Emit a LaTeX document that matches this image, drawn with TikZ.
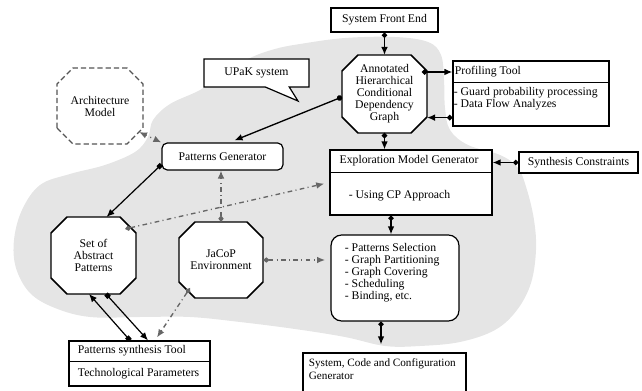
\documentclass[tikz,border=0pt]{standalone}
\usepackage{fontspec}
\setmainfont{Liberation Serif}
\usetikzlibrary{arrows.meta,calc,shapes.callouts}

\definecolor{blobgray}{RGB}{229,229,229}
\definecolor{linkgray}{RGB}{102,102,102}
\definecolor{archgray}{RGB}{85,85,85}

% octagon made from a rectangle with cut corners
\makeatletter
\newdimen\octcut \newdimen\octL \newdimen\octB \newdimen\octR \newdimen\octT
\pgfkeys{/pgf/octagon cut/.initial=12pt}
\pgfdeclareshape{octagon box}{%
	\inheritsavedanchors[from=rectangle]%
	\inheritanchorborder[from=rectangle]%
	\inheritanchor[from=rectangle]{center}%
	\inheritanchor[from=rectangle]{north}%
	\inheritanchor[from=rectangle]{south}%
	\inheritanchor[from=rectangle]{east}%
	\inheritanchor[from=rectangle]{west}%
	\inheritanchor[from=rectangle]{north east}%
	\inheritanchor[from=rectangle]{north west}%
	\inheritanchor[from=rectangle]{south east}%
	\inheritanchor[from=rectangle]{south west}%
	\backgroundpath{%
		\pgfmathsetlength\octcut{\pgfkeysvalueof{/pgf/octagon cut}}%
		\southwest \octL=\pgf@x \octB=\pgf@y
		\northeast \octR=\pgf@x \octT=\pgf@y
		\pgfpathmoveto{\pgfqpoint{\octL}{\dimexpr\octB+\octcut\relax}}%
		\pgfpathlineto{\pgfqpoint{\octL}{\dimexpr\octT-\octcut\relax}}%
		\pgfpathlineto{\pgfqpoint{\dimexpr\octL+\octcut\relax}{\octT}}%
		\pgfpathlineto{\pgfqpoint{\dimexpr\octR-\octcut\relax}{\octT}}%
		\pgfpathlineto{\pgfqpoint{\octR}{\dimexpr\octT-\octcut\relax}}%
		\pgfpathlineto{\pgfqpoint{\octR}{\dimexpr\octB+\octcut\relax}}%
		\pgfpathlineto{\pgfqpoint{\dimexpr\octR-\octcut\relax}{\octB}}%
		\pgfpathlineto{\pgfqpoint{\dimexpr\octL+\octcut\relax}{\octB}}%
		\pgfpathclose
	}%
}
\makeatother

\tikzset{every picture/.style={line width=0.75pt}}
\tikzset{
	every node/.style={font=\fontsize{8.8pt}{9pt}\selectfont},
	box/.style={draw, fill=white, line width=0.9pt, inner sep=1pt},
	roundbox/.style={box, rounded corners=4pt},
	octa/.style={draw, fill=white, line width=1.1pt, shape=octagon box, octagon cut=12pt, align=center, inner sep=0pt, outer sep=0pt},
	boxtext/.style={inner sep=0pt, align=left},
	solidlink/.style={line width=1.1pt, {Circle[length=4pt]}-{Latex[length=6pt,width=5pt]}},
	squarelink/.style={line width=0.9pt, {Square[length=3.5pt]}-{Latex[length=6pt,width=5pt]}},
	graylink/.style={draw=linkgray, line width=1pt, dash pattern=on 3.5pt off 2.5pt on 0.8pt off 2.5pt, {Diamond[length=5pt,width=4pt]}-{Latex[length=6pt,width=5pt]}},
}

\begin{document}
\begin{tikzpicture}[x=0.75pt,y=0.75pt,yscale=-1,xscale=1]
	\useasboundingbox (0,0) rectangle (642,391);

	%Shape: Gray area [id:upak area]
	\fill[blobgray] plot[smooth cycle, tension=0.6] coordinates {(300,44) (345,38) (395,37) (428,42) (441,55) (444,80) (445,108) (450,130) (468,145) (500,155) (518,168) (527,190) (534,220) (536,250) (531,283) (517,310) (495,330) (460,342) (420,346) (385,346) (345,337) (295,329) (240,322) (190,317) (140,317) (90,317) (55,308) (30,293) (16,268) (14,240) (22,210) (40,185) (70,174) (105,165) (135,152) (148,137) (153,120) (170,104) (200,90) (220,75) (250,58) (275,49)};

	%Shape: Callout [id:upak]
	\node[box, rectangle callout, minimum width=78.75pt, minimum height=21pt, callout absolute pointer={(298,101)}, callout pointer width=18pt] (upak) at (256.5,73) {UPaK system};

	%Shape: Rectangle [id:sfe]
	\node[box, minimum width=80.25pt, minimum height=18pt] (sfe) at (384.5,20) {System Front End};
	%Shape: Octagon [id:ahcdg]
	\node[octa, minimum width=63.75pt, minimum height=58.5pt] (ahcdg) at (384.5,94) {Annotated\\Hierarchical\\Conditional\\Dependency\\Graph};
	%Shape: Rectangle [id:prof]
	\node[box, minimum width=117pt, minimum height=48.75pt] (prof) at (531,93.5) {};
	\draw[line width=0.9pt] ($(prof.north west)+(0,22)$) -- ($(prof.north east)+(0,22)$);
	\node[boxtext, anchor=west] (proftitle) at ($(prof.north west)+(2,11)$) {Profiling Tool};
	\node[boxtext, anchor=north west] (proflist) at ($(prof.north west)+(1,26)$) {- Guard probability processing\\- Data Flow Analyzes};

	%Shape: Rectangle [id:emg]
	\node[box, minimum width=121.5pt, minimum height=48.75pt] (emg) at (411,182.5) {};
	\draw[line width=0.9pt] ($(emg.north west)+(0,23)$) -- ($(emg.north east)+(0,23)$);
	\node[boxtext] (emgtitle) at ($(emg.north)+(-2,11.5)$) {Exploration Model Generator};
	\node[boxtext, anchor=west] (emgbody) at ($(emg.north west)+(19,46)$) {- Using CP Approach};
	%Shape: Rectangle [id:synth]
	\node[box, minimum width=89.25pt, minimum height=15.75pt] (synth) at (578.5,162.5) {Synthesis Constraints};

	%Shape: Rounded Rectangle [id:tasks]
	\node[box, rounded corners=8pt, minimum width=96pt, minimum height=64.5pt] (tasks) at (395,278) {};
	\node[boxtext, anchor=north west] (tasklist) at ($(tasks.north west)+(14,8)$) {- Patterns Selection\\- Graph Partitioning\\- Graph Covering\\- Scheduling\\- Binding, etc.};
	%Shape: Rectangle [id:syscode]
	\node[box, minimum width=122.25pt, minimum height=34.5pt] (syscode) at (384.5,376) {};
	\node[boxtext, anchor=north west, font=\fontsize{8.4pt}{9.6pt}\selectfont] (syscodetext) at ($(syscode.north west)+(6,6)$) {System, Code and Configuration\\Generator};

	%Shape: Rounded Rectangle [id:pgen]
	\node[roundbox, minimum width=90.75pt, minimum height=20.25pt] (pgen) at (222.5,156.5) {Patterns Generator};
	%Shape: Octagon [id:arch]
	\node[octa, draw=archgray, line width=1pt, dash pattern=on 4pt off 2.2pt, minimum width=64.5pt, minimum height=57pt] (arch) at (100,106) {Architecture\\Model};
	%Shape: Octagon [id:sap]
	\node[octa, minimum width=63.75pt, minimum height=57.75pt] (sap) at (93.5,255.5) {Set of\\Abstract\\Patterns};
	%Shape: Octagon [id:jacop]
	\node[octa, minimum width=63pt, minimum height=57pt] (jacop) at (221,260) {JaCoP\\Environment};
	%Shape: Rectangle [id:pst]
	\node[box, minimum width=105.75pt, minimum height=33.75pt] (pst) at (139.5,363.5) {};
	\draw[line width=0.9pt] ($(pst.north west)+(0,21)$) -- ($(pst.north east)+(0,21)$);
	\node[boxtext, anchor=west] (psttitle) at ($(pst.north west)+(9,10.5)$) {Patterns synthesis Tool};
	\node[boxtext, anchor=west] (pstparams) at ($(pst.north west)+(9,33)$) {Technological Parameters};

	%Straight Lines [id:front to graph]
	\draw[solidlink] (sfe.south) -- (ahcdg.north);
	%Straight Lines [id:graph to profiling]
	\coordinate (graphout) at ($(ahcdg.north east)+(-5,17)$);
	\draw[solidlink] (graphout) -- (graphout -| prof.west);
	%Straight Lines [id:profiling to graph]
	\coordinate (profback) at ($(prof.south west)+(0,-9)$);
	\draw[solidlink] (profback) -- (profback -| ahcdg.east);
	%Straight Lines [id:graph to exploration]
	\draw[solidlink] (ahcdg.south) -- (ahcdg.south |- emg.north);
	%Straight Lines [id:constraints to exploration]
	\draw[solidlink] (synth.west) -- (synth.west -| emg.east);
	%Straight Lines [id:exploration to tasks]
	\coordinate (emgout) at ($(tasks.north)+(-4,0)$);
	\draw[solidlink] (emgout |- emg.south) -- (emgout);
	%Straight Lines [id:tasks to generator]
	\coordinate (tasksout) at ($(tasks.south)+(-14,0)$);
	\draw[solidlink, shorten >=6pt] (tasksout) -- (tasksout |- syscode.north);
	%Straight Lines [id:graph to patterns generator]
	\draw[line width=1pt, {Circle[length=4pt]}-{Latex[length=6pt,width=5pt]}] ($(ahcdg.west)+(0,3)$) -- ($(pgen.north)+(12,-2)$);
	%Straight Lines [id:patterns generator to set]
	\draw[squarelink] ($(pgen.south west)+(0,-6)$) -- ($(sap.north)+(13,0)$);
	%Straight Lines [id:architecture link]
	\coordinate (archin) at ($(arch.south east)+(-4,-12)$);
	\draw[draw=linkgray, line width=1pt, dash pattern=on 0.8pt off 3pt, {Latex[length=6pt,width=5pt]}-{Latex[length=6pt,width=5pt]}] (archin) -- (pgen.north west);
	%Straight Lines [id:jacop to patterns generator]
	\draw[graylink] (jacop.north) -- (jacop.north |- pgen.south);
	%Straight Lines [id:set to exploration]
	\coordinate (setout) at ($(sap.north east)+(-11,12)$);
	\draw[graylink, shorten >=4pt] (setout) -- (emg.west);
	%Straight Lines [id:jacop to tasks]
	\draw[graylink, shorten >=4pt] (jacop.east) -- (jacop.east -| tasks.west);
	%Straight Lines [id:jacop to synthesis tool]
	\coordinate (jacopout) at ($(jacop.south west)+(11,-10)$);
	\draw[graylink] (jacopout) -- ($(pst.north)+(17.5,-3)$);
	%Straight Lines [id:synthesis tool to set]
	\draw[squarelink] ($(pst.north)+(-9.5,0)$) -- ($(sap.south)+(-4.5,0)$);
	%Straight Lines [id:set to synthesis tool]
	\draw[squarelink] ($(sap.south)+(12.5,0)$) -- ($(pst.north)+(8.5,0)$);

\end{tikzpicture}
\end{document}
